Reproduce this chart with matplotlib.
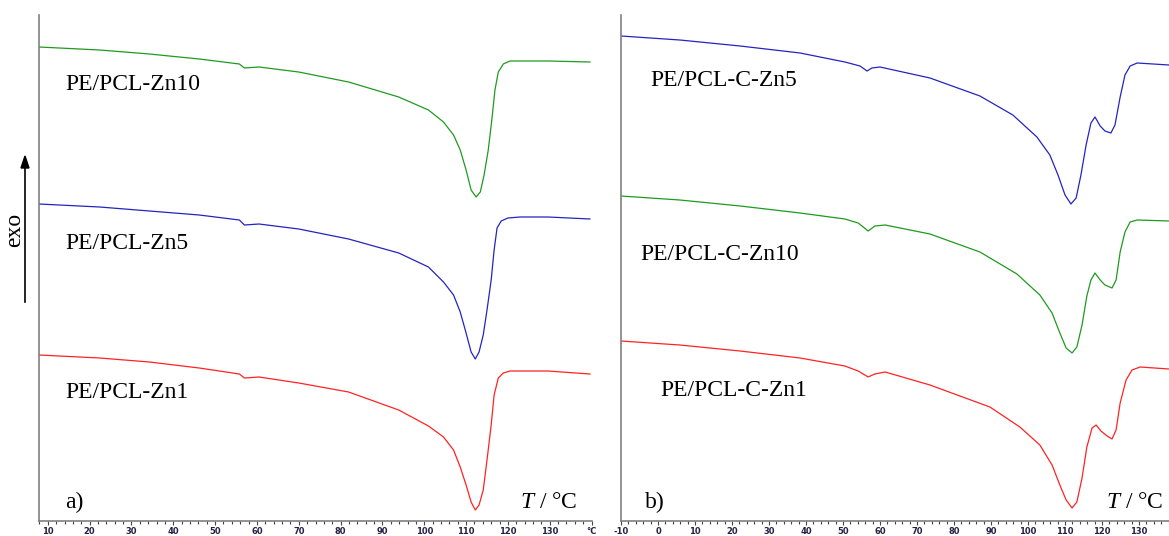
import matplotlib.pyplot as plt
from matplotlib.ticker import MultipleLocator, FixedLocator, FixedFormatter

plt.rcParams['mathtext.fontset'] = 'custom'
plt.rcParams['mathtext.rm'] = 'Liberation Serif'
plt.rcParams['mathtext.it'] = 'Liberation Serif:italic'
plt.rcParams['axes.unicode_minus'] = False

# panel a): temperature (deg C) and heat flow (arbitrary units, exo up)
T_zn10 = [7.9, 22.4, 34.3, 46.2, 55.8, 57.0, 60.5, 70.0, 81.9, 93.9, 101.0, 104.6, 107.0, 108.6,
          110.0, 111.2, 112.4, 113.4, 114.3, 115.3, 116.2, 116.9, 117.7, 118.9, 120.5, 129.6, 139.6]
S_zn10 = [-47, -50, -54, -59, -64, -68, -67, -72, -82, -97, -110, -122, -135, -150,
          -170, -190, -197, -192, -175, -150, -118, -90, -72, -64, -61, -61, -62]

T_zn5 = [7.9, 22.4, 34.3, 46.2, 55.8, 57.0, 60.5, 70.0, 81.9, 93.9, 101.0, 104.6, 107.0, 108.6,
         110.0, 111.2, 112.2, 113.1, 114.1, 115.0, 116.0, 116.7, 117.4, 118.4, 120.0, 122.9, 129.6, 139.6]
S_zn5 = [-204, -207, -211, -215, -220, -225, -224, -229, -239, -253, -267, -282, -295, -312,
         -333, -352, -359, -352, -335, -310, -280, -250, -228, -221, -218, -217, -217, -219]

T_zn1 = [7.9, 22.4, 34.3, 46.2, 55.8, 57.0, 60.5, 70.0, 81.9, 93.9, 101.0, 104.6, 107.0, 108.6,
         110.0, 111.2, 112.2, 113.1, 114.1, 115.0, 116.0, 116.7, 117.7, 118.9, 120.5, 129.6, 139.6]
S_zn1 = [-355, -358, -362, -368, -374, -378, -377, -383, -392, -410, -426, -437, -450, -467,
         -485, -502, -510, -505, -490, -460, -425, -395, -378, -373, -371, -371, -374]

# panel b)
T_czn5 = [-10, 5.9, 22.2, 38.4, 50.5, 54.6, 56.5, 57.8, 60.0, 73.5, 87.0, 95.9, 102.4, 105.9,
          108.1, 110.0, 111.6, 113.0, 114.3, 115.7, 117.0, 118.1, 119.5, 120.8, 122.4, 123.5,
          124.9, 126.2, 127.6, 129.5, 138.1]
S_czn5 = [-36, -40, -46, -53, -62, -66, -71, -68, -67, -78, -96, -115, -137, -155,
          -175, -195, -204, -198, -175, -145, -123, -117, -126, -131, -133, -125,
          -97, -75, -66, -63, -65]

T_czn10 = [-10, 5.9, 22.2, 38.4, 50.5, 54.1, 56.8, 58.6, 61.4, 73.5, 87.0, 97.0, 103.2, 106.5,
           108.6, 110.3, 111.9, 113.2, 114.6, 115.9, 117.0, 118.1, 119.5, 120.8, 122.7, 123.8,
           124.9, 126.2, 127.6, 129.5, 138.1]
S_czn10 = [-196, -200, -206, -213, -219, -223, -231, -226, -225, -234, -252, -274, -295, -313,
           -333, -348, -353, -347, -325, -296, -280, -273, -280, -285, -288, -280,
           -252, -232, -222, -220, -221]

T_czn1 = [-10, 5.9, 22.2, 38.4, 50.5, 54.1, 56.8, 58.6, 61.4, 73.5, 89.7, 97.8, 103.2, 106.5,
          108.6, 110.3, 111.9, 113.2, 114.6, 115.9, 117.3, 118.4, 119.7, 121.4, 122.7, 123.8,
          124.9, 126.5, 128.1, 130.3, 138.1]
S_czn1 = [-341, -345, -351, -358, -366, -371, -377, -374, -372, -385, -407, -427, -445, -465,
          -485, -500, -508, -502, -478, -447, -428, -425, -431, -436, -439, -430,
          -403, -380, -370, -367, -369]

green, blue, red = '#1f9a1f', '#2424bf', '#ff2222'

W, H = 1169, 536
fig = plt.figure(figsize=(W / 100, H / 100), dpi=100)
ax1 = fig.add_axes([39 / W, 15 / H, (592 - 39) / W, 506 / H])
ax2 = fig.add_axes([621 / W, 15 / H, (1169 - 621) / W, 506 / H])

ax1.plot(T_zn10, S_zn10, color=green, lw=0.9)
ax1.plot(T_zn5, S_zn5, color=blue, lw=0.9)
ax1.plot(T_zn1, S_zn1, color=red, lw=0.9)
ax2.plot(T_czn5, S_czn5, color=blue, lw=0.9)
ax2.plot(T_czn10, S_czn10, color=green, lw=0.9)
ax2.plot(T_czn1, S_czn1, color=red, lw=0.9)

ax1.set_xlim(7.9, 140.1)
ax2.set_xlim(-10, 138.1)

for ax in (ax1, ax2):
    ax.set_ylim(-521, -15)
    ax.set_yticks([])
    for s in ('top', 'right'):
        ax.spines[s].set_visible(False)
    for s in ('left', 'bottom'):
        ax.spines[s].set_color('#808080')
        ax.spines[s].set_linewidth(1.2)
    ax.xaxis.set_minor_locator(MultipleLocator(2))
    ax.tick_params(axis='x', which='major', length=3, width=0.8, color='#444444',
                   labelsize=6, labelcolor='#222244', pad=1)
    ax.tick_params(axis='x', which='minor', length=2, width=0.8, color='#444444')

ticks_a = list(range(10, 150, 10))
ax1.xaxis.set_major_locator(FixedLocator(ticks_a))
ax1.xaxis.set_major_formatter(FixedFormatter([str(t) for t in ticks_a[:-1]] + ['°C']))
ax2.xaxis.set_major_locator(MultipleLocator(10))
for ax in (ax1, ax2):
    ax.tick_params(axis='x', labelfontfamily='DejaVu Sans')
    for lab in ax.get_xticklabels():
        lab.set_fontweight('bold')

serif = {'family': 'Liberation Serif', 'size': 17}
fig.text(65 / W, 1 - 84 / H, 'PE/PCL-Zn10', va='center', ha='left', **serif)
fig.text(65 / W, 1 - 243 / H, 'PE/PCL-Zn5', va='center', ha='left', **serif)
fig.text(65 / W, 1 - 392 / H, 'PE/PCL-Zn1', va='center', ha='left', **serif)
fig.text(65 / W, 1 - 502 / H, 'a)', va='center', ha='left', **serif)
fig.text(577 / W, 1 - 502 / H, '$T$ / °C', va='center', ha='right', **serif)

fig.text(650 / W, 1 - 80 / H, 'PE/PCL-C-Zn5', va='center', ha='left', **serif)
fig.text(640 / W, 1 - 254 / H, 'PE/PCL-C-Zn10', va='center', ha='left', **serif)
fig.text(660 / W, 1 - 390 / H, 'PE/PCL-C-Zn1', va='center', ha='left', **serif)
fig.text(645 / W, 1 - 502 / H, 'b)', va='center', ha='left', **serif)
fig.text(1163 / W, 1 - 502 / H, '$T$ / °C', va='center', ha='right', **serif)

# exo arrow
fig.text(15 / W, 1 - 230 / H, 'exo', rotation=90, va='center', ha='center', **serif)
fig.add_artist(plt.Line2D([25 / W, 25 / W], [1 - 302 / H, 1 - 168 / H], color='black', lw=1.2))
fig.patches.append(plt.Polygon([[21 / W, 1 - 168 / H], [29 / W, 1 - 168 / H], [25 / W, 1 - 156 / H]],
                               closed=True, color='black', transform=fig.transFigure))

fig.savefig('out.png', dpi=100)
